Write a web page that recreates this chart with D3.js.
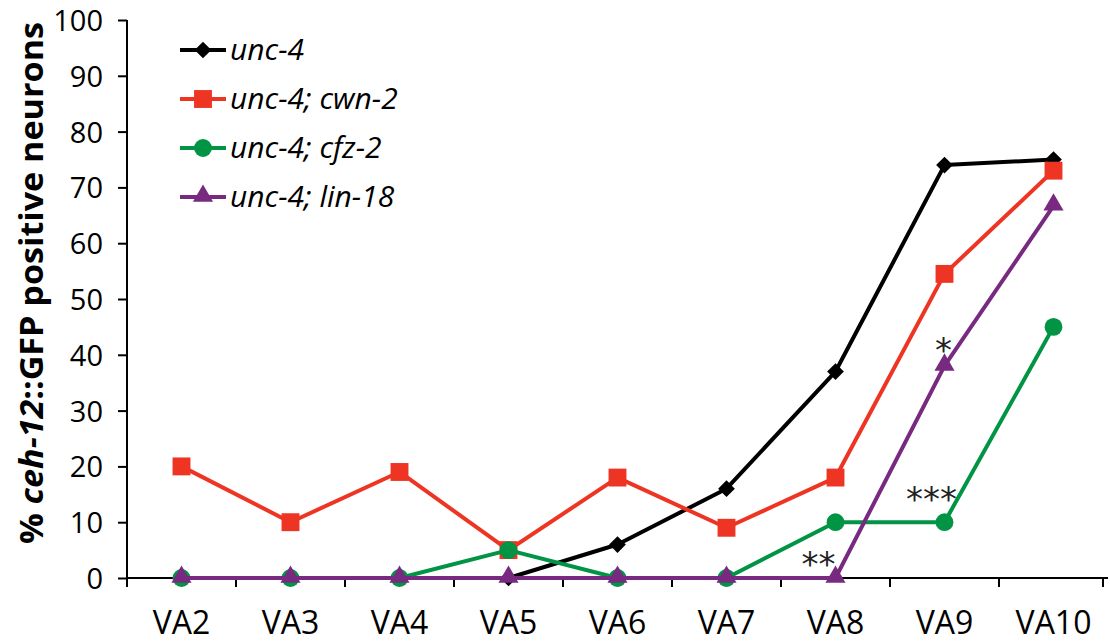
<!DOCTYPE html>
<html>
<head>
<meta charset="utf-8">
<script src="https://cdn.jsdelivr.net/npm/d3@7"></script>
<style>
  html, body { margin: 0; padding: 0; background: #fff; }
  svg { display: block; font-family: "Open Sans", "DejaVu Sans", sans-serif; }
</style>
</head>
<body>
<svg id="chart" width="1110" height="643"></svg>
<script>
// Ventral cord neuron positions
const categories = ["VA2", "VA3", "VA4", "VA5", "VA6", "VA7", "VA8", "VA9", "VA10"];
// % of neurons expressing the reporter, per genotype (null = not scored)
const unc4      = [null, null, null, 0, 6, 16, 37, 74, 75];
const unc4Cwn2  = [20, 10, 19, 5, 18, 9, 18, 54.5, 73];
const unc4Cfz2  = [0, 0, 0, 5, 0, 0, 10, 10, 45];
const unc4Lin18 = [0, 0, 0, 0, 0, 0, 0, 38, 66.7];
const yTicks = [0, 10, 20, 30, 40, 50, 60, 70, 80, 90, 100];
// Significance marks: [category, value, text]
const marks = [["VA8", 0, "**"], ["VA9", 10, "***"], ["VA9", 38, "*"]];

const series = [
  { name: "unc-4",         values: unc4,      color: "#000000", shape: "diamond" },
  { name: "unc-4; cwn-2",  values: unc4Cwn2,  color: "#EE3524", shape: "square" },
  { name: "unc-4; cfz-2",  values: unc4Cfz2,  color: "#009444", shape: "circle" },
  { name: "unc-4; lin-18", values: unc4Lin18, color: "#772A80", shape: "triangle" }
];

const svg = d3.select("#chart");
const plotL = 127, plotR = 1108, plotT = 20, plotB = 578;

const x = d3.scaleBand().domain(categories).range([plotL, plotR]);
const y = d3.scaleLinear().domain([0, 100]).range([plotB, plotT]);
const cx = c => x(c) + x.bandwidth() / 2;

const symbolFor = {
  diamond: d3.symbol().type(d3.symbolSquare).size(140),
  square: d3.symbol().type(d3.symbolSquare).size(320),
  circle: d3.symbol().type(d3.symbolCircle).size(250),
  triangle: d3.symbol().type(d3.symbolTriangle).size(175)
};
function drawMarker(g, s, px, py) {
  const p = g.append("path")
    .attr("d", symbolFor[s.shape]())
    .attr("fill", s.color);
  if (s.shape === "diamond") p.attr("transform", `translate(${px},${py}) rotate(45)`);
  else if (s.shape === "triangle") p.attr("transform", `translate(${px},${py - 1})`);
  else p.attr("transform", `translate(${px},${py})`);
}

// Axes
const yAxis = d3.axisLeft(y).tickValues(yTicks).tickSize(9).tickPadding(15);
const gy = svg.append("g").attr("transform", `translate(${plotL},0)`).call(yAxis);
gy.select(".domain").attr("stroke", "#000").attr("stroke-width", 2).attr("d", `M0,${plotT}V${plotB}`);
gy.selectAll(".tick line").attr("stroke", "#000").attr("stroke-width", 2);
gy.selectAll(".tick text").attr("font-size", 29).attr("fill", "#000")
  .attr("dy", "0.36em")
  .attr("font-family", "'Open Sans', sans-serif");

const bounds = categories.map(c => x(c)).concat([plotR - 5]);
const xAxis = d3.axisBottom(x).tickSize(0).tickPadding(33);
const gx = svg.append("g").attr("transform", `translate(0,${plotB})`).call(xAxis);
gx.select(".domain").attr("stroke", "#000").attr("stroke-width", 2).attr("d", `M${plotL},0H${plotR}`);
gx.selectAll(".tick text").attr("font-size", 32).attr("fill", "#000")
  .attr("font-family", "'Open Sans', sans-serif");
gx.selectAll(".bound").data(bounds).enter().append("line")
  .attr("x1", d => d).attr("x2", d => d).attr("y1", 0).attr("y2", 9)
  .attr("stroke", "#000").attr("stroke-width", 2);

// Y axis title
const yt = svg.append("text")
  .attr("transform", `translate(43,283) rotate(-90)`)
  .attr("text-anchor", "middle")
  .attr("textLength", 522).attr("lengthAdjust", "spacingAndGlyphs")
  .attr("font-size", 32).attr("font-weight", "bold").attr("fill", "#000");
yt.append("tspan").text("% ");
yt.append("tspan").attr("font-style", "italic").text("ceh-12");
yt.append("tspan").text("::GFP positive neurons");

// Lines and markers
const line = d3.line()
  .defined(d => d.v !== null)
  .x(d => cx(d.c))
  .y(d => y(d.v));

series.forEach(s => {
  const pts = categories.map((c, i) => ({ c, v: s.values[i] }));
  const g = svg.append("g");
  g.append("path").datum(pts)
    .attr("d", line).attr("fill", "none")
    .attr("stroke", s.color).attr("stroke-width", 4)
    .attr("stroke-linejoin", "round");
  pts.filter(d => d.v !== null).forEach(d => drawMarker(g, s, cx(d.c), y(d.v)));
});

// Significance labels (offsets from the data point, centre of the glyphs)
const markPos = { "**": [-17, -21], "***": [-13, -31], "*": [-1, -23] };
const markSize = 34;
marks.forEach(([c, v, t]) => {
  svg.append("text")
    .attr("x", cx(c) + markPos[t][0])
    .attr("y", y(v) + markPos[t][1] + markSize * 0.57)
    .attr("text-anchor", "middle")
    .attr("font-size", markSize).attr("fill", "#222")
    .attr("font-family", "'DejaVu Sans', sans-serif")
    .text(t);
});

// Legend
const legend = svg.append("g");
series.forEach((s, i) => {
  const ly = 50 + i * 49;
  legend.append("line").attr("x1", 180).attr("x2", 226).attr("y1", ly).attr("y2", ly)
    .attr("stroke", s.color).attr("stroke-width", 4);
  drawMarker(legend, s, 203, ly);
  legend.append("text").attr("x", 230).attr("y", ly + 10)
    .attr("font-size", 30).attr("font-style", "italic").attr("fill", "#000")
    .text(s.name);
});
</script>
</body>
</html>
